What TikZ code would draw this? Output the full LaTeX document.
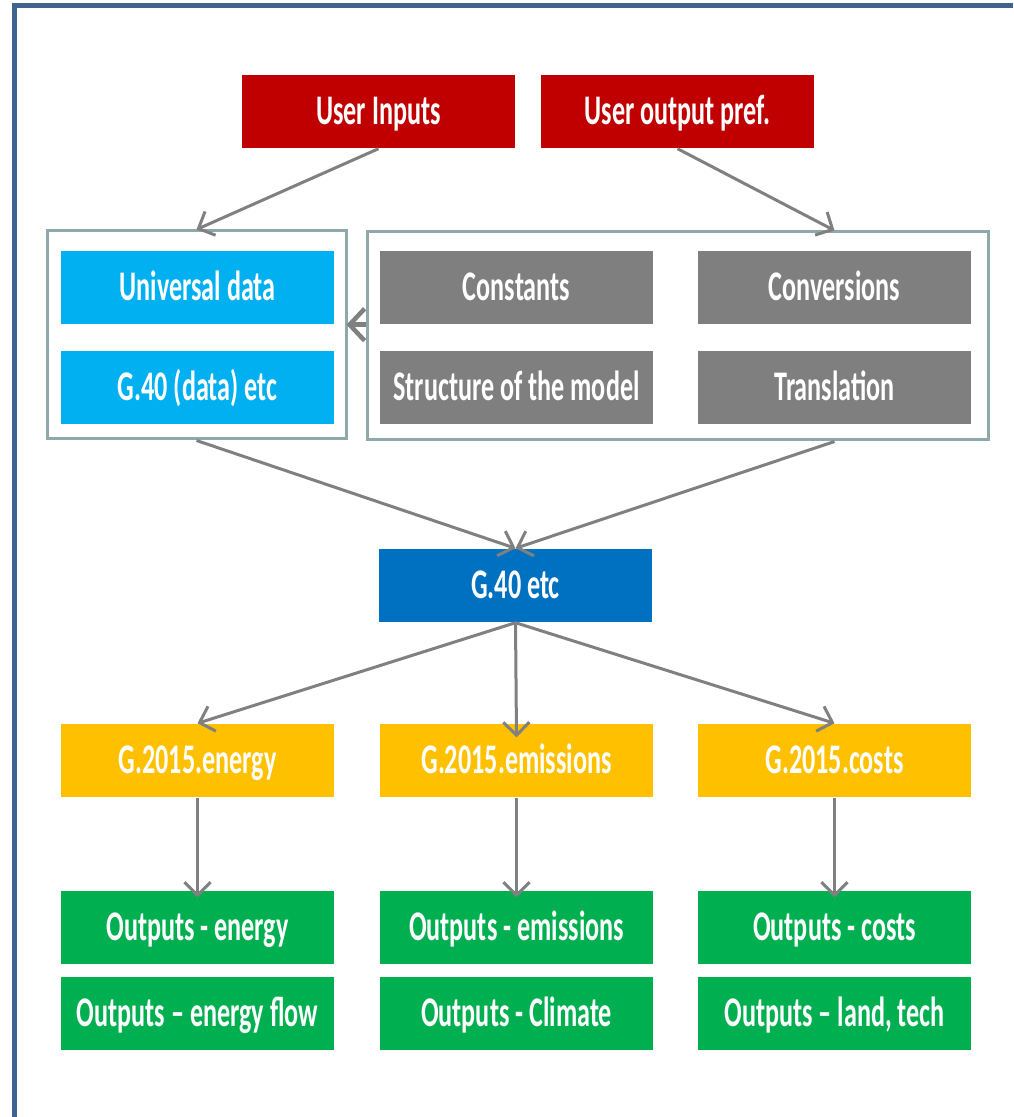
\documentclass[tikz,border=0pt]{standalone}
\usepackage{fontspec}
\setmainfont{Carlito}[FakeStretch=0.62]
\usetikzlibrary{arrows.meta}

\definecolor{redbox}{RGB}{192,0,0}
\definecolor{cyanbox}{RGB}{0,176,240}
\definecolor{greybox}{RGB}{127,127,127}
\definecolor{bluebox}{RGB}{0,112,192}
\definecolor{yellowbox}{RGB}{255,192,0}
\definecolor{greenbox}{RGB}{0,176,80}
\definecolor{framecol}{RGB}{143,168,170}
\definecolor{outercol}{RGB}{63,99,145}
\definecolor{arrowcol}{RGB}{128,128,128}

\tikzset{
    box/.style={fill=#1,text=white,font=\fontsize{12}{14}\selectfont\bfseries,
        minimum width=27.3mm,minimum height=7.3mm,inner sep=0pt,
        text height=3.3mm,text depth=0.7mm},
    group/.style={draw=framecol,line width=0.3mm,inner sep=0pt},
    link/.style={draw=arrowcol,line width=0.3mm,-{Straight Barb[length=1.3mm,width=2.6mm]}}
}

\begin{document}
\begin{tikzpicture}[x=0.1mm,y=-0.1mm]
        \useasboundingbox (0,0) rectangle (1013,1117);
        \draw[outercol,line width=0.5mm] (14,1117) -- (14,6) -- (1013,6);
        % user side
        \node[box=redbox] (inputs) at (378.5,111.5) {User Inputs};
        \node[box=redbox] (pref) at (677.5,111.5) {User output pref.};
        % data frames
        \node[group,minimum width=29.9mm,minimum height=20.8mm] (datagrp) at (196.5,335) {};
        \node[group,minimum width=62.1mm,minimum height=20.8mm] (modelgrp) at (677.5,336) {};
        \node[box=cyanbox] (univ) at (197.5,287.5) {Universal data};
        \node[box=cyanbox] (gdata) at (197.5,387.5) {G.40 (data) etc};
        \node[box=greybox] (const) at (516.5,287.5) {Constants};
        \node[box=greybox] (conv) at (834.5,287.5) {Conversions};
        \node[box=greybox] (struct) at (516.5,387.5) {Structure of the model};
        \node[box=greybox] (transl) at (834.5,387.5) {Translation};
        % model
        \node[box=bluebox] (gforty) at (515.5,585.5) {G.40 etc};
        % results
        \node[box=yellowbox] (energy) at (197.5,760.5) {G.2015.energy};
        \node[box=yellowbox] (emis) at (516.5,760.5) {G.2015.emissions};
        \node[box=yellowbox] (costs) at (834.5,760.5) {G.2015.costs};
        \node[box=greenbox] (outen) at (197.5,927.5) {Outputs - energy};
        \node[box=greenbox] (outflow) at (197.5,1013.5) {Outputs -- energy flow};
        \node[box=greenbox] (outem) at (516.5,927.5) {Outputs - emissions};
        \node[box=greenbox] (outclim) at (516.5,1013.5) {Outputs - Climate};
        \node[box=greenbox] (outco) at (834.5,927.5) {Outputs - costs};
        \node[box=greenbox] (outland) at (834.5,1013.5) {Outputs -- land, tech};
        % arrows
        \draw[link] (inputs.south) -- (datagrp.north);
        \draw[link] (pref.south) -- (conv.north |- modelgrp.north);
        \draw[link,line width=0.45mm,-{Straight Barb[length=1.5mm,width=3.2mm]}] (modelgrp.west |- const.south) -- ++(-19,0);
        \draw[link] (datagrp.south) -- (gforty.north);
        \draw[link] (conv.south |- modelgrp.south) -- (gforty.north);
        \draw[link] (gforty.south) -- (energy.north);
        \draw[link] (gforty.south) -- ([yshift=-4]emis.north);
        \draw[link] (gforty.south) -- (costs.north);
        \draw[link] (energy.south) -- ([yshift=-2]outen.north);
        \draw[link] (emis.south) -- ([yshift=-2]outem.north);
        \draw[link] (costs.south) -- ([yshift=-2]outco.north);
    \end{tikzpicture}
\end{document}
